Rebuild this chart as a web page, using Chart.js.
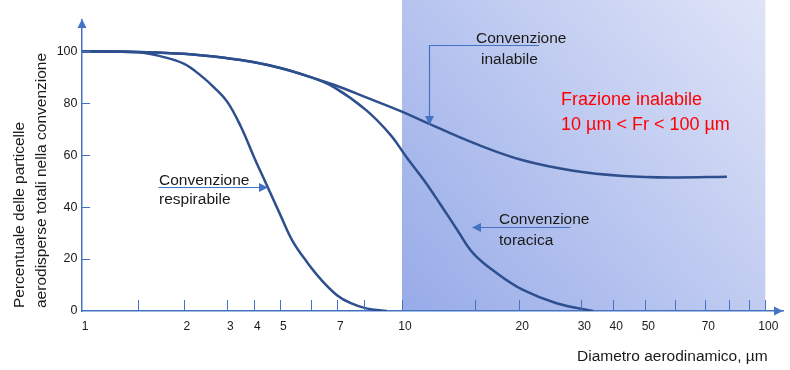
<!DOCTYPE html>
<html>
<head>
<meta charset="utf-8">
<script src="https://cdn.jsdelivr.net/npm/chart.js@4.4.1/dist/chart.umd.min.js"></script>
<style>
  html, body { margin: 0; padding: 0; background: #fff; }
  #wrap { width: 790px; height: 370px; }
</style>
</head>
<body>
<div id="wrap"><canvas id="chart" width="790" height="370"></canvas></div>
<script>
// Curve: diametro (µm) -> percentuale
const diamRespirabile = [1, 1.5, 1.75, 2, 2.4, 2.7, 3, 3.5, 4, 4.5, 5, 5.4, 5.9, 6.4, 7, 7.5, 8.1, 9.2];
const respirabile = [100, 99.6, 98, 95.2, 90.5, 86, 80.5, 71, 59, 48, 37, 27, 18.5, 12, 6, 3, 1, 0];

const diamToracica = [1, 1.5, 2, 3, 4, 5, 6, 6.9, 8.1, 9.4, 10.3, 11.5, 12.6, 13.8, 14.9, 17.5, 20.6, 26, 33.7];
const toracica = [100, 99.7, 99, 97.3, 95.7, 93.5, 90, 86, 77.3, 67.7, 59.3, 50.4, 41.4, 31.2, 22.2, 14.5, 8.1, 3, 0];

const diamInalabile = [1, 1.5, 2, 3, 4, 5, 6, 6.9, 8.1, 9.9, 11.8, 15, 20.6, 28.7, 43, 59, 79];
const inalabile = [100, 99.7, 99, 97.3, 95.7, 93.5, 90, 87, 82.2, 77, 72.2, 64.5, 58, 54, 52, 51.4, 51.7];

const xTicks = [1, 1.5, 2, 3, 4, 5, 6, 7, 8, 10, 15, 20, 30, 40, 50, 60, 70, 80, 90, 100];
const xLabels = [1, 2, 3, 4, 5, 7, 10, 20, 30, 40, 50, 70, 100];
const yTicks = [0, 20, 40, 60, 80, 100];
const frazione = [10, 100];

// l'asse del disegno originale non e' un log vero: posizione relativa di ogni valore
const xKnots = [1, 1.5, 2, 3, 4, 5, 6, 7, 8, 10, 15, 20, 30, 40, 50, 60, 70, 80, 90, 100, 110];
const xKnotPos = [0, .0803, .1451, .2073, .2458, .2829, .3262, .3642, .4027, .4565, .5602,
                  .6238, .7123, .7579, .8036, .8464, .8892, .9234, .9519, .9748, 1];

function interp(v, from, to) {
  if (v <= from[0]) return to[0];
  for (let i = 1; i < from.length; i++) {
    if (v <= from[i]) {
      const t = (v - from[i - 1]) / (from[i] - from[i - 1]);
      return to[i - 1] + t * (to[i] - to[i - 1]);
    }
  }
  return to[to.length - 1];
}

const LinearScale = Chart.registry.getScale('linear');
class DiametroScale extends LinearScale {
  static id = 'diametro';
  static defaults = {};
  buildTicks() { return xTicks.map(v => ({ value: v })); }
  getPixelForValue(v) { return this.getPixelForDecimal(interp(v, xKnots, xKnotPos)); }
  getValueForPixel(p) { return interp(this.getDecimalForPixel(p), xKnotPos, xKnots); }
}
Chart.register(DiametroScale);

const AXIS = '#4472C4';
const CURVE = '#2E4F8E';
const TEXT = '#1a1a1a';
Chart.defaults.font.family = '"Liberation Sans", Arial, sans-serif';

const toPoints = (xs, ys) => xs.map((x, i) => ({ x: x, y: ys[i] }));

function arrowHead(ctx, x, y, dir) {
  // dir: 'up' | 'down' | 'left' | 'right'
  const L = 9, W = 4.5;
  ctx.beginPath();
  ctx.moveTo(x, y);
  if (dir === 'up') { ctx.lineTo(x - W, y + L); ctx.lineTo(x + W, y + L); }
  if (dir === 'down') { ctx.lineTo(x - W, y - L); ctx.lineTo(x + W, y - L); }
  if (dir === 'left') { ctx.lineTo(x + L, y - W); ctx.lineTo(x + L, y + W); }
  if (dir === 'right') { ctx.lineTo(x - L, y - W); ctx.lineTo(x - L, y + W); }
  ctx.closePath();
  ctx.fill();
}

// zona della frazione inalabile
const sfondo = {
  id: 'sfondo',
  beforeDraw(chart) {
    const { ctx, chartArea, scales: { x } } = chart;
    const x0 = x.getPixelForValue(frazione[0]);
    const x1 = x.getPixelForValue(frazione[1]);
    const g = ctx.createLinearGradient(x0, chartArea.bottom, x1, 0);
    g.addColorStop(0, '#97ABE8');
    g.addColorStop(1, '#DFE4F7');
    ctx.save();
    ctx.fillStyle = g;
    ctx.fillRect(x0, 0, x1 - x0, chartArea.bottom);
    ctx.restore();
  }
};

// tacche verso l'interno e frecce degli assi
const assi = {
  id: 'assi',
  afterDraw(chart) {
    const { ctx, chartArea: a, scales: { x, y } } = chart;
    ctx.save();
    ctx.strokeStyle = AXIS;
    ctx.fillStyle = AXIS;
    ctx.lineWidth = 1;
    xTicks.slice(1).forEach(v => {
      const px = Math.round(x.getPixelForValue(v)) + 0.5;
      ctx.beginPath(); ctx.moveTo(px, a.bottom); ctx.lineTo(px, a.bottom - 11); ctx.stroke();
    });
    yTicks.slice(1).forEach(v => {
      const py = Math.round(y.getPixelForValue(v)) + 0.5;
      ctx.beginPath(); ctx.moveTo(a.left, py); ctx.lineTo(a.left + 8, py); ctx.stroke();
    });
    arrowHead(ctx, a.left, a.top - 1, 'up');
    arrowHead(ctx, a.right, a.bottom, 'right');
    ctx.restore();
  }
};

// etichette e frecce delle convenzioni
const note = {
  id: 'note',
  afterDraw(chart) {
    const ctx = chart.ctx;
    ctx.save();
    ctx.textBaseline = 'alphabetic';
    ctx.textAlign = 'left';
    ctx.font = '15.5px "Liberation Sans", Arial, sans-serif';
    ctx.fillStyle = TEXT;
    ctx.fillText('Convenzione', 476, 43);
    ctx.fillText('inalabile', 481, 63.5);
    ctx.fillText('Convenzione', 159, 185);
    ctx.fillText('respirabile', 159, 204);
    ctx.fillText('Convenzione', 499, 224);
    ctx.fillText('toracica', 499, 245);
    ctx.fillText('Diametro aerodinamico, µm', 577, 361);

    ctx.save();
    ctx.translate(24, 308);
    ctx.rotate(-Math.PI / 2);
    ctx.fillText('Percentuale delle particelle', 0, 0);
    ctx.fillText('aerodisperse totali nella convenzione', 0, 22);
    ctx.restore();

    ctx.fillStyle = '#FF0000';
    ctx.font = '18px "Liberation Sans", Arial, sans-serif';
    ctx.fillText('Frazione inalabile', 561, 105);
    ctx.fillText('10 µm < Fr < 100 µm', 561, 129.5);

    ctx.strokeStyle = AXIS;
    ctx.fillStyle = AXIS;
    ctx.lineWidth = 1.2;
    ctx.beginPath();
    ctx.moveTo(539, 45.5); ctx.lineTo(429.5, 45.5); ctx.lineTo(429.5, 118);
    ctx.stroke();
    arrowHead(ctx, 429.5, 125, 'down');

    ctx.beginPath(); ctx.moveTo(158.5, 187.5); ctx.lineTo(260, 187.5); ctx.stroke();
    arrowHead(ctx, 268, 187.5, 'right');

    ctx.beginPath(); ctx.moveTo(570.5, 227.5); ctx.lineTo(480, 227.5); ctx.stroke();
    arrowHead(ctx, 472, 227.5, 'left');
    ctx.restore();
  }
};

const linea = { borderColor: CURVE, borderWidth: 2.5, pointRadius: 0, fill: false, tension: 0.4 };

new Chart(document.getElementById('chart'), {
  type: 'line',
  data: {
    datasets: [
      Object.assign({ label: 'Convenzione inalabile', data: toPoints(diamInalabile, inalabile) }, linea),
      Object.assign({ label: 'Convenzione toracica', data: toPoints(diamToracica, toracica) }, linea),
      Object.assign({ label: 'Convenzione respirabile', data: toPoints(diamRespirabile, respirabile) }, linea)
    ]
  },
  options: {
    responsive: false,
    animation: false,
    devicePixelRatio: 1,
    layout: { padding: { left: 0, top: 20, right: 7, bottom: 0 } },
    plugins: { legend: { display: false }, tooltip: { enabled: false } },
    scales: {
      x: {
        type: 'diametro',
        min: 1,
        max: 110,
        grid: { display: false, drawTicks: false },
        border: { color: AXIS, width: 1.5 },
        ticks: {
          autoSkip: false,
          maxRotation: 0,
          padding: 8,
          labelOffset: 3,
          color: TEXT,
          font: { size: 12 },
          callback: v => xLabels.includes(v) ? String(v) : ''
        },
        afterFit: s => { s.height = 59; }
      },
      y: {
        min: 0,
        max: 112,
        grid: { display: false, drawTicks: false },
        border: { color: AXIS, width: 1.5 },
        ticks: { padding: 4.5, color: TEXT, font: { size: 12.5 } },
        afterBuildTicks: s => { s.ticks = yTicks.map(v => ({ value: v })); },
        afterFit: s => { s.width = 82; }
      }
    }
  },
  plugins: [sfondo, assi, note]
});
</script>
</body>
</html>
